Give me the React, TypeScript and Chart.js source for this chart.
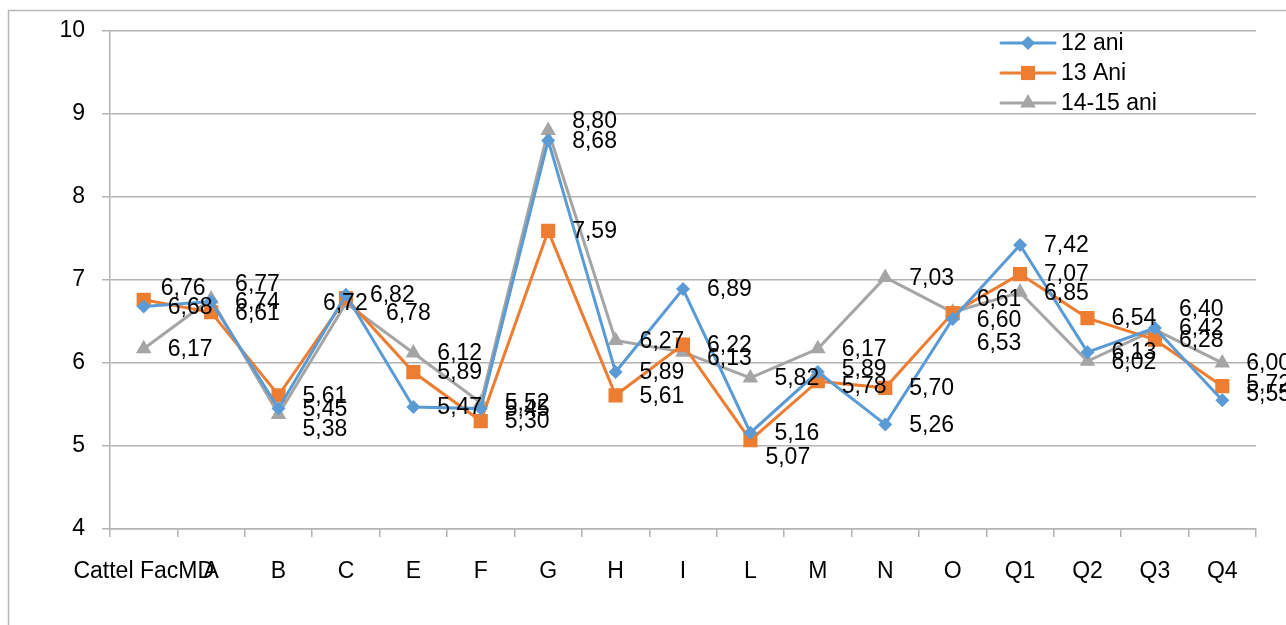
import React, { useEffect, useRef } from "react";
import { Chart, registerables } from "chart.js";

Chart.register(...registerables);

const categories = ["Cattel FacMD", "A", "B", "C", "E", "F", "G", "H", "I", "L", "M", "N", "O", "Q1", "Q2", "Q3", "Q4"];
const seriesNames = ["12 ani", "13 Ani", "14-15 ani"];
const values12 = [6.68, 6.74, 5.45, 6.82, 5.47, 5.45, 8.68, 5.89, 6.89, 5.16, 5.89, 5.26, 6.53, 7.42, 6.13, 6.42, 5.55];
const values13 = [6.76, 6.61, 5.61, 6.78, 5.89, 5.30, 7.59, 5.61, 6.22, 5.07, 5.78, 5.70, 6.60, 7.07, 6.54, 6.28, 5.72];
const values1415 = [6.17, 6.77, 5.38, 6.72, 6.12, 5.52, 8.80, 6.27, 6.13, 5.82, 6.17, 7.03, 6.61, 6.85, 6.02, 6.40, 6.00];
const yTicks = [4, 5, 6, 7, 8, 9, 10];

const colors = ["#5b9bd5", "#ed7d31", "#a5a5a5"];
const pointStyles = ["rectRot", "rect", "triangle"];
const pointRadii = [7, 10, 9];
const FONT = "'Liberation Sans', Arial, sans-serif";
const FONT_SIZE = 23;
const GRID = "#b4b4b4";

// label nudges (series:category -> [dx, dy] in px), mimicking the reference's label placement
const labelNudges: Record<string, [number, number]> = {
  "1:0": [-7, -12],
  "2:1": [0, -15],
  "2:2": [0, 14],
  "2:3": [-47, 0],
  "1:3": [16, 14],
  "2:6": [0, -10],
  "2:8": [0, 6],
  "1:9": [-9, 17],
  "0:10": [0, -3],
  "1:10": [0, 4],
  "2:12": [0, -14],
  "1:12": [0, 7],
  "0:12": [0, 24],
  "2:15": [0, -21],
  "0:16": [0, -7],
  "1:16": [0, -3],
};

function drawMarker(ctx: CanvasRenderingContext2D, style: string, x: number, y: number, r: number, color: string) {
  ctx.save();
  ctx.fillStyle = color;
  ctx.beginPath();
  if (style === "rectRot") {
    ctx.moveTo(x, y - r);
    ctx.lineTo(x + r, y);
    ctx.lineTo(x, y + r);
    ctx.lineTo(x - r, y);
    ctx.closePath();
  } else if (style === "rect") {
    const s = r / Math.SQRT2;
    ctx.rect(x - s, y - s, 2 * s, 2 * s);
  } else {
    ctx.moveTo(x, y - r);
    ctx.lineTo(x + r * 0.87, y + r * 0.5);
    ctx.lineTo(x - r * 0.87, y + r * 0.5);
    ctx.closePath();
  }
  ctx.fill();
  ctx.restore();
}

const framePlugin = {
  id: "frame",
  beforeDraw(chart: any) {
    const ctx = chart.ctx;
    ctx.save();
    ctx.strokeStyle = "#b8b8b8";
    ctx.lineWidth = 1.5;
    ctx.strokeRect(8.5, 10.5, 1300, 640);
    ctx.restore();
  },
};

const labelsPlugin = {
  id: "valueLabels",
  afterDatasetsDraw(chart: any) {
    const ctx = chart.ctx;
    ctx.save();
    ctx.font = `${FONT_SIZE}px ${FONT}`;
    ctx.fillStyle = "#000";
    ctx.textAlign = "left";
    ctx.textBaseline = "middle";
    chart.data.datasets.forEach((ds: any, i: number) => {
      const meta = chart.getDatasetMeta(i);
      meta.data.forEach((pt: any, j: number) => {
        const v = ds.data[j] as number;
        const n = labelNudges[`${i}:${j}`] || [0, 0];
        ctx.fillText(v.toFixed(2).replace(".", ","), pt.x + 24 + n[0], pt.y + 1 + n[1]);
      });
    });
    ctx.restore();
  },
};

const legendPlugin = {
  id: "customLegend",
  afterDraw(chart: any) {
    const ctx = chart.ctx;
    const x0 = 1001;
    const x1 = 1055;
    const ys = [43, 73, 103];
    ctx.save();
    seriesNames.forEach((name, i) => {
      const y = ys[i];
      ctx.strokeStyle = colors[i];
      ctx.lineWidth = 3;
      ctx.lineCap = "round";
      ctx.beginPath();
      ctx.moveTo(x0, y);
      ctx.lineTo(x1, y);
      ctx.stroke();
      drawMarker(ctx, pointStyles[i], (x0 + x1) / 2, y, pointRadii[i], colors[i]);
      ctx.font = `${FONT_SIZE}px ${FONT}`;
      ctx.fillStyle = "#000";
      ctx.textAlign = "left";
      ctx.textBaseline = "middle";
      ctx.fillText(name, 1061, y + 1);
    });
    ctx.restore();
  },
};

export default function App() {
  const canvasRef = useRef<HTMLCanvasElement | null>(null);

  useEffect(() => {
    if (!canvasRef.current) return;
    const allValues = [values12, values13, values1415];
    const chart = new Chart(canvasRef.current, {
      type: "line",
      data: {
        labels: categories,
        datasets: seriesNames.map((name, i) => ({
          label: name,
          data: allValues[i],
          borderColor: colors[i],
          backgroundColor: colors[i],
          borderWidth: 3,
          pointStyle: pointStyles[i] as any,
          pointRadius: pointRadii[i],
          pointBorderWidth: 0,
          pointBackgroundColor: colors[i],
          tension: 0,
          fill: false,
        })),
      },
      options: {
        animation: false,
        responsive: true,
        maintainAspectRatio: false,
        layout: { padding: { left: 0, top: 30, right: 30, bottom: 0 } },
        plugins: {
          legend: { display: false },
          tooltip: { enabled: false },
        },
        scales: {
          x: {
            type: "category",
            offset: true,
            afterFit: (s: any) => {
              s.height = 96;
            },
            grid: {
              display: true,
              drawOnChartArea: false,
              drawTicks: true,
              tickLength: 8,
              offset: true,
              color: GRID,
              lineWidth: 1.5,
            },
            border: { display: true, color: GRID, width: 1.5 },
            ticks: {
              color: "#000",
              font: { family: FONT, size: FONT_SIZE },
              padding: 21,
              autoSkip: false,
              maxRotation: 0,
            },
          },
          y: {
            type: "linear",
            min: yTicks[0],
            max: yTicks[yTicks.length - 1],
            afterFit: (s: any) => {
              s.width = 110;
            },
            afterBuildTicks: (s: any) => {
              s.ticks = yTicks.map((v) => ({ value: v }));
            },
            grid: {
              color: GRID,
              lineWidth: 1.5,
              drawTicks: true,
              tickLength: 8,
            },
            border: { display: true, color: GRID, width: 1.5 },
            ticks: {
              color: "#000",
              font: { family: FONT, size: FONT_SIZE },
              padding: 17,
            },
          },
        },
      },
      plugins: [framePlugin, labelsPlugin, legendPlugin],
    });
    return () => chart.destroy();
  }, []);

  return (
    <div style={{ position: "absolute", left: 0, top: 0, width: 1286, height: 625, background: "#fff" }}>
      <canvas ref={canvasRef} />
    </div>
  );
}
